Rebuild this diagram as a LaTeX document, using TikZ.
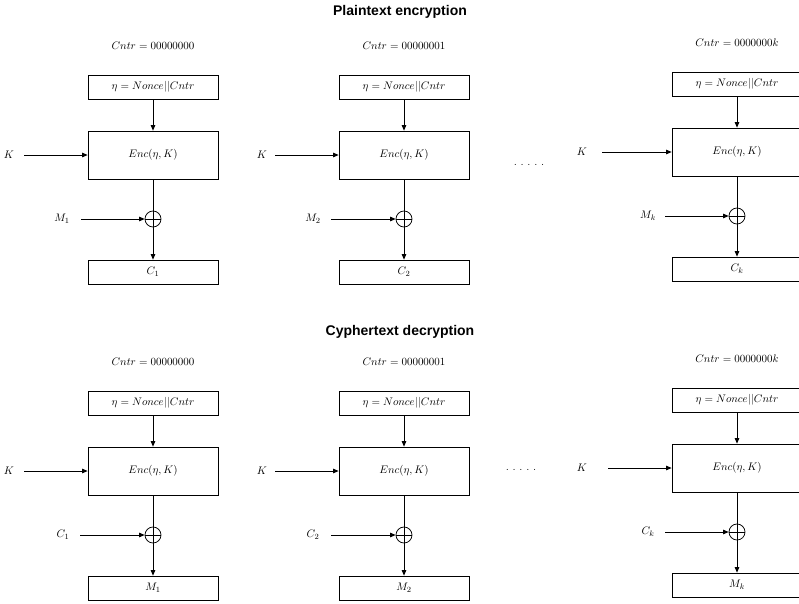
\documentclass[tikz,border=0pt]{standalone}
\usepackage{fontspec}
\newfontfamily\titlefont{Liberation Sans}
\usetikzlibrary{arrows.meta}
\begin{document}
\begin{tikzpicture}[x=1pt,y=-1pt,
  every node/.style={font=\fontsize{11.4}{13}\selectfont, inner sep=0pt},
  blk/.style={draw, minimum width=130pt, minimum height=24pt},
  encbox/.style={draw, minimum width=130pt, minimum height=48pt},
  xorc/.style={draw, circle, minimum size=16pt},
  flow/.style={-{Triangle[length=5.5pt,width=4.5pt]}},
  heading/.style={font=\titlefont\bfseries\fontsize{14}{16}\selectfont},
  line width=0.75pt]
\useasboundingbox (0,0) rectangle (799,603);
\clip (0,0) rectangle (799,603);

% section headings
\node[heading] (encTitle) at (400,11.5) {Plaintext encryption};
\node[heading] (decTitle) at (400,332) {Cyphertext decryption};

% one counter-mode stage per entry:
% id / centre x / nonce-box y / K label x / K arrow start / input label x / input arrow start / counter / input / output
\foreach \i/\cx/\base/\kx/\ks/\mx/\ms/\cntr/\inp/\outp in {
    a/153/87/9/24/62/81/00000000/M_1/C_1,
    b/404/87/262/275/313/331/00000001/M_2/C_2,
    c/737/84/582/602/648/665/0000000k/M_k/C_k,
    d/153/403/9/24/63/80/00000000/C_1/M_1,
    e/404/403/262/275/313/331/00000001/C_2/M_2,
    f/737/400/582/608/648/665/0000000k/C_k/M_k} {
  \node (cn\i) at (\cx,\base-41) {$Cntr = \cntr$};
  \node[blk] (nb\i) at (\cx,\base) {$\eta = Nonce||Cntr$};
  \node[encbox] (enc\i) at (\cx,\base+68) {$Enc(\eta, K)$};
  \node[xorc] (x\i) at (\cx,\base+132) {};
  \node[blk] (out\i) at (\cx,\base+185) {$\outp$};
  \node (k\i) at (\kx,\base+68) {$K$};
  \coordinate (ks\i) at (\ks,\base+68);
  \node (m\i) at (\mx,\base+132) {$\inp$};
  \coordinate (ms\i) at (\ms,\base+132);
  \draw[flow] (nb\i) -- (enc\i);
  \draw[flow] (ks\i) -- (enc\i.west);
  \draw (enc\i) -- (x\i.north);
  \draw[flow] (x\i.south) -- (out\i);
  \draw[flow] (ms\i) -- (x\i.west);
  \draw (x\i.north) -- (x\i.south) (x\i.west) -- (x\i.east);
}

% ellipses between the stages
\node (gapTop) at (529,165) {.\ .\ .\ .\ .};
\node (gapBot) at (521,470) {.\ .\ .\ .\ .};
\end{tikzpicture}
\end{document}
